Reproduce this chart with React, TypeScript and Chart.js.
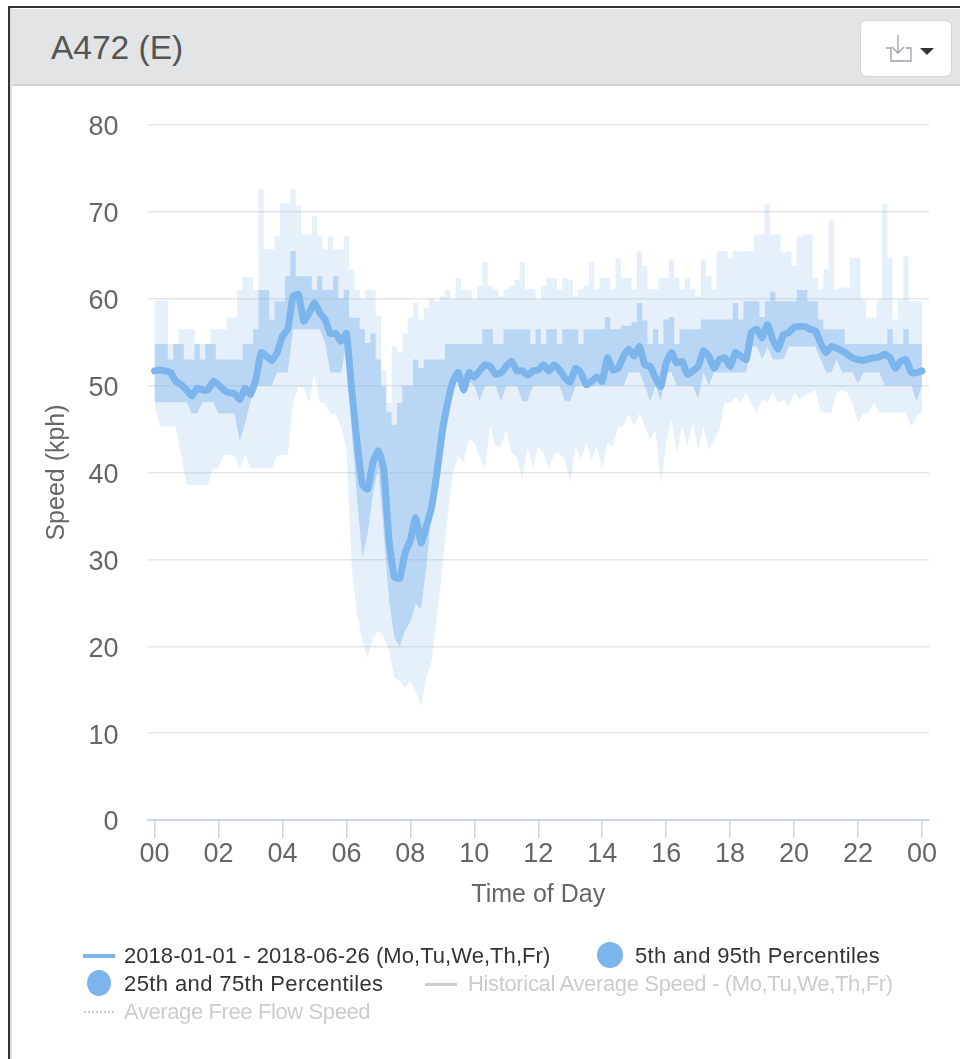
import React, { useEffect, useRef } from "react";
import { Chart, registerables } from "chart.js";

Chart.register(...registerables);

const title = "A472 (E)";
const xTitle = "Time of Day";
const yTitle = "Speed (kph)";
const legendEntries = [
  "2018-01-01 - 2018-06-26 (Mo,Tu,We,Th,Fr)",
  "5th and 95th Percentiles",
  "25th and 75th Percentiles",
  "Historical Average Speed - (Mo,Tu,We,Th,Fr)",
  "Average Free Flow Speed",
];

// One reading every ten minutes, 00:00 to 24:00
const meanSpeed = [
  51.7,51.8,51.7,51.5,50.5,50.1,49.5,48.8,49.7,49.5,
  49.5,50.5,50.1,49.5,49.2,49.1,48.4,49.7,49,50.7,
  53.8,53.4,52.9,53.8,55.7,56.5,60.3,60.5,57.4,58.4,
  59.5,58.4,57.6,56,56,55.1,56,49.5,43.5,38.6,
  38.1,41.2,42.5,40.4,32.2,28,27.8,30.7,32.2,34.8,
  31.9,33.8,36.1,40,44.7,48,50.5,51.5,49.5,51.5,
  51,51.7,52.4,52.2,51.3,51.5,52.2,52.8,51.7,51.7,
  51.2,51.7,51.8,52.4,51.7,52.4,51.8,50.9,50.4,52,
  51.5,50.1,50.5,51,50.5,53.2,51.8,52,53.4,54.2,
  53.4,54.5,52.4,52.2,50.9,49.9,52.6,53.8,52.6,52.8,
  51.3,51.7,52.2,54,53.4,52,53,53.2,52.2,53.8,
  53.4,53,56.1,56.5,55.5,57,55.3,54.2,55.9,56.1,
  56.7,56.8,56.8,56.5,56.3,54.9,53.8,54.5,54.3,54,
  53.6,53.2,53,52.9,53.1,53.2,53.3,53.6,53.2,52,
  52.8,53,51.5,51.5,51.7,
];
const p95 = [
  59.8,59.8,59.8,54.8,54.8,56.5,56.5,56.5,54.8,54.8,
  54.8,56.5,56.5,56.5,57.8,57.8,61,62.5,62.5,61,
  72.6,65.7,65.7,67.2,71,71,72.6,70.7,67.4,67.4,
  69.5,67.2,65.7,67.2,65.7,65.7,67.2,63.4,61,60,
  61,61,58,51.8,48,54.5,53.8,56,57.8,59.5,
  57.6,59,60,59.7,60.3,61,60,62.4,61,61,
  59.9,61.5,64.2,61.5,61.1,60.3,61.1,61.5,62.2,64.2,
  61.1,61.1,59.9,61.5,62.4,62.4,61.1,62.4,62.2,60.3,
  61.1,61.5,64.2,61.1,62.4,62.4,61.1,64.7,62.4,62.4,
  61.1,65.5,63.8,61.1,61.1,62.4,62.4,64.5,62.4,61.1,
  62.4,61.1,60.3,64.5,62.6,61.1,65.5,65.5,64.7,65.5,
  65.5,65.5,65.5,67.4,67.4,70.9,67.4,67.4,65.3,65.5,
  63.8,67.2,67.4,67.4,62.4,61.1,63.4,69,61.1,61.3,
  61.3,64.7,64.7,59.9,57.8,57.8,59.9,70.9,64.7,57.6,
  59.9,64.9,59.7,59.7,59.7,
];
const p75 = [
  54.8,54.8,54.8,53,54.8,54.8,53,53,54.8,53,
  54.8,54.8,53,53,53,53,53,54.8,54.8,56.5,
  61,61,57.6,59.7,59.7,62.6,65.5,62.6,62.6,62.6,
  61,62.6,61,61,62.6,60,61,57.8,57.8,56.5,
  54.9,56,53,49.9,47,45.5,48,50,50,53,
  52,53,53,53,53,54.8,54.8,54.8,54.8,54.8,
  54.8,54.8,56.5,56.5,54.8,54.8,56.5,56.5,56.5,56.5,
  56.5,54.8,56.5,54.8,56.5,56.5,54.8,56.5,56.5,56.5,
  54.8,56.5,56.5,56.5,56.5,57.9,56.5,56.5,56.9,56.9,
  57.3,59.5,57.5,54.8,56.5,54.8,57.6,57.9,54.8,56.5,
  56.5,56.5,56.5,57.6,57.6,57.6,57.6,57.6,57.6,59.5,
  57.6,59.7,59.7,59.7,57.9,59.7,60.8,59.7,59.7,59.7,
  59.7,61,61,59.7,59.7,57.6,56.5,56.5,56.5,56.5,
  54.8,54.8,54.8,54.8,54.8,54.8,54.8,54.8,56.5,54.8,
  54.8,56.5,54.8,54.8,54.8,
];
const p25 = [
  48.1,48.1,48.1,48.1,48.1,48.1,48.1,46.8,46.8,48.1,
  48.1,48.1,46.8,46.8,46.8,46.8,43.6,45.7,48.1,50,
  50,50,50,51.5,51.5,51.5,56.5,56.5,56.5,56.5,
  56.5,56.5,54.9,51.5,51.5,51.5,54.9,44.7,36.9,30.3,
  33,37.7,40.4,33,25.3,21,20,21.8,22.8,24.9,
  24.3,29.1,35.3,39.6,44.3,47.7,50,50.5,49,50.5,
  50,48.2,50,50,50,48.2,50,50,50,48.2,
  48.2,50,50,50,50,50,50,48.2,48.2,50,
  50,50,50,50,50,50,50,50,50,51.5,
  51.5,51.5,50,48.2,50,48.2,51.5,51.5,50,50,
  50,50,48.5,51.5,50,51.5,51.5,51.5,51.5,51.5,
  51.5,51.5,54.5,54.5,53,54.5,53,53,53,54.5,
  54.5,54.5,54.5,54.5,54.5,53,51.5,51.5,53,51.5,
  51.5,51.5,50.2,51.5,51.5,51.5,51.5,50,50,50,
  50,50,50,48.2,50,
];
const p5 = [
  48.1,45.3,45.3,45.3,45.3,42,38.6,38.6,38.6,38.6,
  38.6,40.5,40.5,42,42,42,40.5,42,40.5,40.5,
  40.5,40.5,40.5,42,42,42,48,49.9,49.7,48,
  51.5,48,48,46.8,46.8,45.3,42.7,29.1,23.7,20.6,
  18.7,21,21.8,21,19.5,16.4,16,15.2,16,14.8,
  13.1,16.4,18.3,23.3,29.1,35,40,41.9,41.2,43.9,
  43.4,41.8,40.5,45.3,43,43,44.9,42.2,41.8,39.2,
  43,40.5,43,42.2,40.5,42.2,42.2,41.5,38.8,43,
  41.5,43.4,41.5,43,40.5,43.4,43,45.3,45.3,46.8,
  45.3,46.8,45.3,43.8,44.9,38.8,43.4,46.1,42.2,45.3,
  43,45.7,42.6,45.3,42.6,43.8,44.9,48,48,48.8,
  48,49.2,48,46.8,48.4,48,49.2,48,48.4,47.6,
  49.2,48.4,48.8,49.2,49.5,47,46.9,46.9,49.2,49.5,
  49.2,48,45.7,46.8,46.8,48,46.9,46.9,46.9,46.9,
  46.9,46.9,45.3,46.5,46.9,
];

const pts = (vals: number[]) => vals.map((y, i) => ({ x: i / 6, y }));
const TEXT = "#666666";
const AXIS_FONT = "'Liberation Sans', Arial, sans-serif";

const legendFont: React.CSSProperties = {
  position: "absolute",
  fontFamily: "'Liberation Sans', sans-serif",
  fontSize: 22,
  lineHeight: "28px",
  whiteSpace: "nowrap",
};

function LegendText({ x, y, spacing, color, children }: any) {
  return (
    <span style={{ ...legendFont, left: x, top: y - 14, letterSpacing: spacing, color }}>{children}</span>
  );
}
function Dot({ x, y, w, h }: any) {
  return (
    <span
      style={{
        position: "absolute",
        left: x,
        top: y - h / 2,
        width: w,
        height: h,
        borderRadius: "50%",
        background: "#7cb5ec",
      }}
    />
  );
}

// Chart.js centres tick labels on the em box; the reference sits a little lower.
function nudgeLabels(scale: any, dy: number) {
  if (scale.__nudged) return;
  scale.__nudged = true;
  const compute = scale._computeLabelItems;
  scale._computeLabelItems = function (area: any) {
    const items = compute.call(this, area);
    items.forEach((it: any) => { it.options.translation[1] += dy; });
    return items;
  };
}

export default function App() {
  const ref = useRef<HTMLCanvasElement | null>(null);
  useEffect(() => {
    if (!ref.current) return;
    const chart = new Chart(ref.current, {
      type: "line",
      data: {
        datasets: [
          {
            label: legendEntries[0],
            data: pts(meanSpeed),
            borderColor: "#7cb5ec",
            borderWidth: 7,
            pointRadius: 0,
            tension: 0.15,
            fill: false,
            order: 0,
            borderCapStyle: "round",
            borderJoinStyle: "round",
          },
          {
            label: "p75",
            data: pts(p75),
            borderWidth: 0,
            pointRadius: 0,
            stepped: "middle",
            backgroundColor: "rgba(124,181,236,0.42)",
            fill: { target: 2 },
            order: 1,
          },
          { label: "p25", data: pts(p25), borderWidth: 0, pointRadius: 0, fill: false, order: 1 },
          {
            label: "p95",
            data: pts(p95),
            borderWidth: 0,
            pointRadius: 0,
            stepped: "middle",
            backgroundColor: "rgba(124,181,236,0.2)",
            fill: { target: 4 },
            order: 2,
          },
          { label: "p5", data: pts(p5), borderWidth: 0, pointRadius: 0, fill: false, order: 2 },
        ] as any,
      },
      options: {
        animation: false,
        responsive: false,
        layout: { padding: { left: 0, right: 31, top: 125, bottom: 129 } },
        plugins: { legend: { display: false }, tooltip: { enabled: false } },
        scales: {
          x: {
            type: "linear",
            min: -0.22,
            max: 24.22,
            afterFit: (s: any) => { s.height = 110; },
            grid: { drawOnChartArea: false, drawTicks: true, tickLength: 18, color: "#ccd6eb", lineWidth: 1.5 },
            border: { display: true, color: "#ccd6eb", width: 2 },
            ticks: {
              stepSize: 2,
              includeBounds: false,
              autoSkip: false,
              maxRotation: 0,
              padding: 0,
              color: TEXT,
              font: { family: AXIS_FONT, size: 27 },
              callback: (v: any) => String(Number(v) % 24).padStart(2, "0"),
            },
            title: {
              display: true,
              text: xTitle,
              color: TEXT,
              padding: { top: 0, bottom: 20 },
              font: { family: AXIS_FONT, size: 25 },
            },
          },
          y: {
            min: 0,
            max: 80,
            beforeUpdate: (s: any) => nudgeLabels(s, 3),
            afterFit: (s: any) => { s.width = 147.5; },
            grid: { color: "#e6e6e6", lineWidth: 1.5, drawTicks: false },
            border: { display: false },
            ticks: {
              stepSize: 10,
              padding: 29,
              color: TEXT,
              font: { family: AXIS_FONT, size: 27 },
            },
            title: {
              display: true,
              text: yTitle,
              color: TEXT,
              padding: { top: 42, bottom: 0 },
              font: { family: AXIS_FONT, size: 25 },
            },
          },
        },
      },
    } as any);
    return () => chart.destroy();
  }, []);

  return (
    <div
      style={{
        position: "absolute",
        left: 0,
        top: 0,
        width: 960,
        height: 1059,
        overflow: "hidden",
        background: "#fff",
        filter: "blur(0.5px)",
      }}
    >
      {/* frame */}
      <div style={{ position: "absolute", left: 8, top: 6, width: 952, height: 2, background: "#333" }} />
      <div style={{ position: "absolute", left: 8, top: 6, width: 2, height: 1053, background: "#333" }} />
      <div style={{ position: "absolute", left: 10, top: 8, width: 2, height: 1051, background: "#ddd" }} />
      {/* header */}
      <div
        style={{
          position: "absolute",
          left: 12,
          top: 9,
          width: 948,
          height: 75,
          background: "#e3e4e6",
          borderBottom: "2px solid #d2d2d2",
        }}
      />
      <div
        style={{
          position: "absolute",
          left: 51,
          top: 25,
          fontFamily: "'Liberation Sans', Arial, sans-serif",
          fontSize: 33.5,
          lineHeight: "46px",
          color: "#555",
        }}
      >
        {title}
      </div>
      {/* export button */}
      <div
        style={{
          position: "absolute",
          left: 860,
          top: 20,
          width: 90,
          height: 55,
          background: "#fff",
          border: "1px solid #d5d5d5",
          borderRadius: 7,
        }}
      />
      <svg style={{ position: "absolute", left: 880, top: 30 }} width="60" height="36" viewBox="0 0 60 36">
        <path d="M6 18 H11 V31 H31 V18 H26" fill="none" stroke="#9aa0a8" strokeWidth="1.3" />
        <path d="M18 5 V23 M12 17 L18 23 L24 17" fill="none" stroke="#9aa0a8" strokeWidth="1.3" />
        <path d="M40 18 H54 L47 25 Z" fill="#333" />
      </svg>
      <canvas
        ref={ref}
        width={960}
        height={1059}
        style={{ position: "absolute", left: 0, top: 0, width: 960, height: 1059 }}
      />
      {/* legend */}
      <div style={{ position: "absolute", left: 83, top: 954, width: 32, height: 4, background: "#7cb5ec" }} />
      <LegendText x={124} y={956} spacing="0.05px" color="#333">{legendEntries[0]}</LegendText>
      <Dot x={597} y={955} w={26} h={26} />
      <LegendText x={635} y={956} spacing="0.33px" color="#333">{legendEntries[1]}</LegendText>
      <Dot x={87} y={983} w={24} h={26} />
      <LegendText x={124} y={984} spacing="0.4px" color="#333">{legendEntries[2]}</LegendText>
      <div style={{ position: "absolute", left: 425, top: 983, width: 32, height: 3, background: "#cccccc" }} />
      <LegendText x={468} y={984} spacing="-0.35px" color="#cccccc">{legendEntries[3]}</LegendText>
      <div style={{ position: "absolute", left: 84, top: 1011, width: 30, height: 0, borderTop: "2px dotted #cccccc" }} />
      <LegendText x={124} y={1012} spacing="-0.39px" color="#cccccc">{legendEntries[4]}</LegendText>
    </div>
  );
}
